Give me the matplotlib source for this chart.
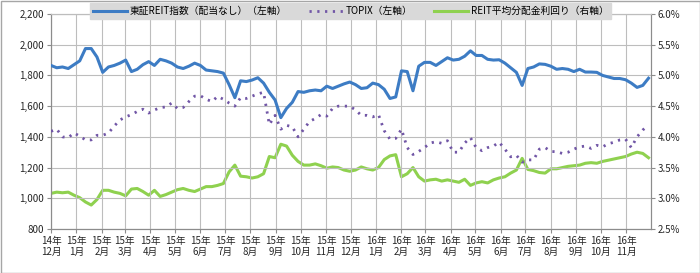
import matplotlib
matplotlib.use("Agg")
import matplotlib.pyplot as plt
from matplotlib.patches import Rectangle
from matplotlib.ticker import FuncFormatter
import pandas as pd

plt.rcParams["font.family"] = ["Noto Sans CJK JP", "DejaVu Sans"]

# ======================================================
# Datos (semanal, dic-2014 ~ nov-2016)
# ======================================================

dates = pd.date_range("2014-12-01", periods=105, freq="7D")

reit_index = [
    1865, 1850, 1855, 1845, 1870, 1895, 1975, 1975, 1920, 1820,
    1855, 1865, 1880, 1900, 1825, 1840, 1870, 1890, 1865, 1905,
    1895, 1880, 1855, 1845, 1860, 1880, 1865, 1835, 1830, 1825,
    1815, 1740, 1655, 1765, 1760, 1770, 1785, 1750, 1690, 1640,
    1525, 1585, 1625, 1695, 1690, 1700, 1705, 1700, 1730, 1715,
    1730, 1745, 1757, 1740, 1715, 1720, 1750, 1740, 1710, 1650,
    1660, 1830, 1825, 1700, 1860, 1885, 1885, 1865, 1890, 1915,
    1900, 1905, 1925, 1960, 1930, 1930, 1905, 1900, 1902, 1880,
    1850, 1820, 1735, 1845, 1855, 1875, 1872, 1860, 1840, 1845,
    1840, 1825, 1840, 1822, 1822, 1820, 1800, 1790, 1780, 1780,
    1772, 1750, 1722, 1735, 1782,
]

topix = [
    1436, 1450, 1400, 1395, 1425, 1405, 1380, 1380, 1410, 1410,
    1425, 1470, 1510, 1530, 1545, 1565, 1580, 1555, 1575, 1590,
    1595, 1620, 1585, 1591, 1630, 1665, 1668, 1645, 1630, 1663,
    1645, 1620, 1600, 1655, 1650, 1665, 1680, 1690, 1480, 1540,
    1450, 1475, 1465, 1400, 1450, 1500, 1520, 1545, 1535, 1585,
    1600, 1600, 1600, 1575, 1540, 1540, 1530, 1545, 1440, 1385,
    1390, 1450, 1330, 1285, 1305, 1330, 1360, 1368, 1358, 1375,
    1300, 1300, 1360, 1395, 1330, 1310, 1330, 1340, 1365, 1320,
    1270, 1280, 1235, 1250, 1250, 1320, 1330, 1305, 1303, 1292,
    1300, 1320, 1335, 1340, 1325, 1345, 1335, 1355, 1365, 1380,
    1385, 1330, 1400, 1445, 1475,
]

reit_yield = [
    3.08, 3.10, 3.09, 3.10, 3.05, 3.01, 2.94, 2.89, 2.98, 3.13,
    3.13, 3.10, 3.08, 3.04, 3.15, 3.16, 3.11, 3.05, 3.13, 3.03,
    3.06, 3.10, 3.14, 3.16, 3.13, 3.11, 3.15, 3.19, 3.19, 3.21,
    3.24, 3.43, 3.54, 3.36, 3.35, 3.33, 3.35, 3.40, 3.68, 3.66,
    3.88, 3.85, 3.70, 3.60, 3.54, 3.54, 3.56, 3.53, 3.49, 3.51,
    3.50, 3.46, 3.44, 3.46, 3.51, 3.48, 3.46, 3.50, 3.63, 3.69,
    3.71, 3.35, 3.40, 3.50, 3.35, 3.28, 3.30, 3.31, 3.28, 3.30,
    3.28, 3.26, 3.31, 3.21, 3.25, 3.27, 3.25, 3.30, 3.33, 3.35,
    3.41, 3.46, 3.65, 3.47, 3.45, 3.42, 3.41, 3.48, 3.48, 3.50,
    3.52, 3.53, 3.54, 3.57, 3.58, 3.57, 3.60, 3.62, 3.64, 3.66,
    3.68, 3.72, 3.75, 3.73, 3.66,
]

series_names = [
    "東証REIT指数（配当なし）（左軸）",
    "TOPIX（左軸）",
    "REIT平均分配金利回り（右軸）",
]

months = pd.date_range("2014-12-01", "2016-11-01", freq="MS")
month_labels = [f"{d.year % 100}年\n{d.month}月" for d in months]

# ======================================================
# Gráfico
# ======================================================

fig = plt.figure(figsize=(7.0, 2.73), dpi=100)
ax = fig.add_axes([51 / 700, 44 / 273, 600 / 700, 215 / 273])
ax2 = ax.twinx()

grid_c = "#bdbdbd"
axis_c = "#8c8c8c"
text_c = "#262626"

l1, = ax.plot(dates, reit_index, color="#3d7cc4", lw=2.2, zorder=4,
              solid_joinstyle="round")
l2, = ax.plot(dates, topix, color="#7156a6", lw=2.0, zorder=3,
              linestyle=(0, (0.8, 2.0)))
l3, = ax2.plot(dates, reit_yield, color="#8fd14f", lw=2.2, zorder=4,
               solid_joinstyle="round")

ax.set_xlim(pd.Timestamp("2014-12-01"), pd.Timestamp("2016-12-01"))
ax.set_ylim(800, 2200)
ax2.set_ylim(2.5, 6.0)

ax.set_yticks(range(800, 2201, 200))
ax.yaxis.set_major_formatter(FuncFormatter(lambda v, p: f"{v:,.0f}"))
ax2.set_yticks([2.5, 3.0, 3.5, 4.0, 4.5, 5.0, 5.5, 6.0])
ax2.yaxis.set_major_formatter(FuncFormatter(lambda v, p: f"{v:.1f}%"))

ax.set_xticks(months)
ax.set_xticklabels(month_labels, linespacing=1.15)

ax.grid(True, color=grid_c, lw=0.8)
ax.set_axisbelow(True)

for a in (ax, ax2):
    for s in a.spines.values():
        s.set_color(axis_c)
        s.set_linewidth(0.8)
    a.spines["top"].set_color(grid_c)
    a.tick_params(colors=axis_c, labelcolor=text_c, labelsize=7,
                  length=3, width=0.8, pad=2)

ax2.set_zorder(ax.get_zorder() + 1)
ax.set_zorder(ax2.get_zorder() + 1)
ax.patch.set_visible(False)

fig.legend(
    [l1, l2, l3], series_names,
    loc="upper left",
    bbox_to_anchor=(90 / 700, 1 - 3 / 273),
    ncol=3,
    fontsize=7,
    frameon=True,
    fancybox=False,
    facecolor="#d9d9d9",
    edgecolor="#d9d9d9",
    framealpha=1,
    handlelength=3.5,
    handletextpad=0.3,
    columnspacing=2.2,
    borderpad=0.3,
    borderaxespad=0,
)

fig.patches.append(Rectangle((0.5 / 700, 0.5 / 273), 699 / 700, 272 / 273,
                             transform=fig.transFigure, fill=False,
                             edgecolor="#a6a6a6", lw=1))

plt.savefig("out.png", dpi=100)
plt.close()
